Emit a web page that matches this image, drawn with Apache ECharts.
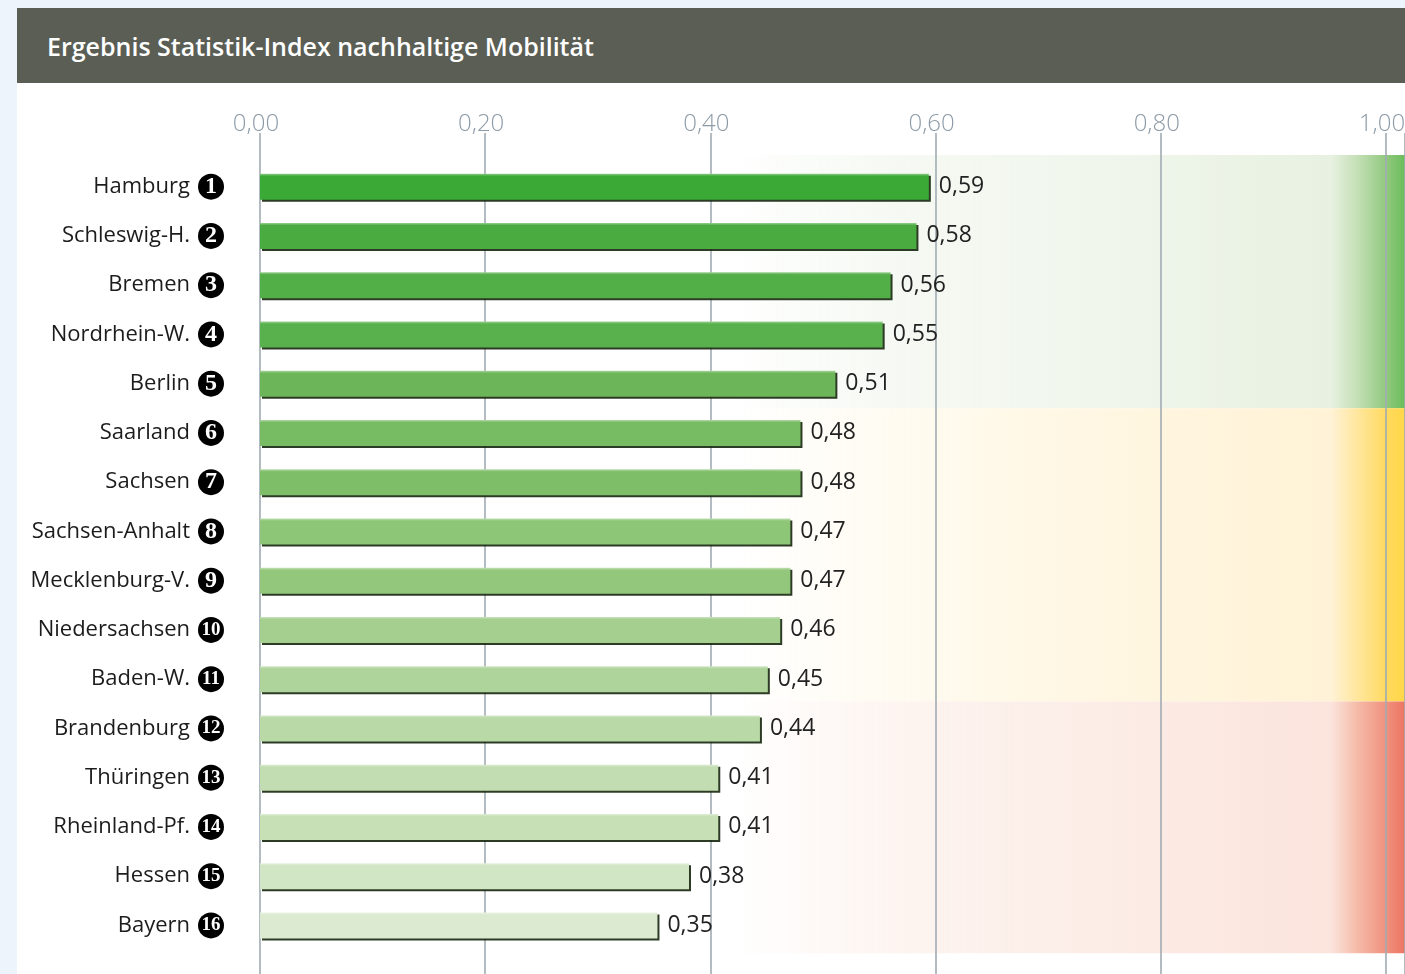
<!DOCTYPE html>
<html>
<head>
<meta charset="utf-8">
<title>Ergebnis Statistik-Index nachhaltige Mobilität</title>
<script src="https://cdn.jsdelivr.net/npm/echarts@6/dist/echarts.min.js"></script>
<style>
  html, body { margin: 0; padding: 0; background: #edf4fc; overflow: hidden; }
  .head {
    position: absolute; left: 17px; top: 8px; width: 1388px; height: 75px;
    background: #5a5e55; color: #fff; box-sizing: border-box; padding-left: 30px;
    font: 600 25px "Open Sans", sans-serif; line-height: 76px;
  }
  #chart { position: absolute; left: 17px; top: 83px; width: 1388px; height: 891px; background: #fff; }
</style>
</head>
<body>
<div class="head">Ergebnis Statistik-Index nachhaltige Mobilität</div>
<div id="chart"></div>
<script>
// Daten
const laender = ["Hamburg", "Schleswig-H.", "Bremen", "Nordrhein-W.", "Berlin", "Saarland", "Sachsen",
  "Sachsen-Anhalt", "Mecklenburg-V.", "Niedersachsen", "Baden-W.", "Brandenburg", "Thüringen",
  "Rheinland-Pf.", "Hessen", "Bayern"];
const raenge = [1, 2, 3, 4, 5, 6, 7, 8, 9, 10, 11, 12, 13, 14, 15, 16];
const indexWerte = [0.594, 0.583, 0.560, 0.553, 0.511, 0.480, 0.480, 0.471, 0.471, 0.462, 0.451, 0.444,
  0.407, 0.407, 0.381, 0.353];
const achsenTicks = [0, 0.2, 0.4, 0.6, 0.8, 1.0];

// Bewertungsbereiche (in Rangplätzen: gut / mittel / schlecht)
const bereichVon = [-0.14, 5, 10.95];
const bereichBis = [5, 10.95, 16.06];

// Farben
const balkenFarben = ["#3aa935", "#4aab40", "#52ae47", "#58b14c", "#6cb659", "#77bb62", "#7fbe69",
  "#8ec677", "#93c87c", "#a4cf8f", "#afd49b", "#b9d9a6", "#c2ddb1", "#c7e0b6", "#d1e6c4", "#dbead0"];
const bereichFarben = [
  ["rgba(233,242,227,0)", "#f2f7ef", "#e8f1e1", "#c3dfb5", "#8dc77b", "#6bbd5b"],
  ["rgba(255,247,228,0)", "#fff8e6", "#fff2d6", "#ffe69c", "#ffd95c", "#ffd748"],
  ["rgba(251,232,224,0)", "#fcefe9", "#fbe4dc", "#f5baa7", "#ef8e7b", "#ed7563"]
];

const xMax = 1.0169;

function fmt(v) {
  return v.toFixed(2).replace(".", ",");
}

function helle(hex, t) {
  const n = parseInt(hex.slice(1), 16);
  const r = n >> 16, g = (n >> 8) & 255, b = n & 255;
  const m = c => Math.round(c + (255 - c) * t);
  return "rgb(" + m(r) + "," + m(g) + "," + m(b) + ")";
}

const chart = echarts.init(document.getElementById("chart"));

const bereiche = bereichVon.map((von, i) => {
  const f = bereichFarben[i];
  return [
    {
      xAxis: 0.42, yAxis: von,
      itemStyle: {
        color: new echarts.graphic.LinearGradient(0, 0, 1, 0, [
          { offset: 0, color: f[0] },
          { offset: 0.45, color: f[1] },
          { offset: 0.89, color: f[2] },
          { offset: 0.93, color: f[3] },
          { offset: 0.975, color: f[4] },
          { offset: 1, color: f[5] }
        ])
      }
    },
    { xAxis: xMax, yAxis: bereichBis[i] }
  ];
});

const badgeBasis = {
  backgroundColor: "#000", borderRadius: 13, width: 26, height: 26, lineHeight: 26,
  align: "center", verticalAlign: "middle", color: "#fff", fontFamily: "Liberation Serif", fontWeight: "bold"
};

const option = {
  animation: false,
  grid: [
    { left: 243, right: 0, top: 50, bottom: 0, outerBoundsMode: "none", containLabel: false },
    { left: 243, right: 0, top: 79, bottom: 24, outerBoundsMode: "none", containLabel: false }
  ],
  xAxis: [
    {
      gridIndex: 0,
      type: "value",
      position: "top",
      min: 0,
      max: xMax,
      interval: 0.2,
      z: 3,
      axisLine: { show: false },
      axisTick: { show: false },
      splitLine: { lineStyle: { color: "#a1abb3", width: 1.6 } },
      axisLabel: {
        margin: -3,
        color: "#8d9ba7",
        fontFamily: "Open Sans",
        fontWeight: 300,
        fontSize: 24,
        padding: [0, 8, 0, 0],
        showMaxLabel: false,
        formatter: v => achsenTicks.some(t => Math.abs(t - v) < 1e-6) ? fmt(v) : ""
      }
    },
    { gridIndex: 1, type: "value", min: 0, max: xMax, show: false }
  ],
  yAxis: [
    { gridIndex: 0, type: "value", min: -0.587, max: 16.48, inverse: true, show: false },
    {
      gridIndex: 1,
      type: "category",
      inverse: true,
      data: laender,
      axisLine: { show: false },
      axisTick: { show: false },
      axisLabel: {
        margin: 36,
        formatter: (name, idx) => {
          const r = raenge[idx];
          return "{name|" + name + "}{" + (r < 10 ? "badge" : "badge2") + "|" + r + "}";
        },
        rich: {
          name: { fontFamily: "Open Sans", fontSize: 22, color: "#1c1c1c", padding: [0, 8, 0, 0] },
          badge: Object.assign({ fontSize: 24 }, badgeBasis),
          badge2: Object.assign({ fontSize: 19 }, badgeBasis)
        }
      }
    }
  ],
  series: [
    {
      type: "line",
      xAxisIndex: 0,
      yAxisIndex: 0,
      data: [],
      silent: true,
      markArea: { silent: true, data: bereiche }
    },
    {
      type: "bar",
      xAxisIndex: 1,
      yAxisIndex: 1,
      z: 10,
      barWidth: 26,
      data: indexWerte.map((v, i) => ({
        value: v,
        itemStyle: {
          color: new echarts.graphic.LinearGradient(0, 0, 0, 1, [
            { offset: 0, color: helle(balkenFarben[i], 0.45) },
            { offset: 0.1, color: balkenFarben[i] },
            { offset: 1, color: balkenFarben[i] }
          ]),
          shadowColor: "rgba(22,38,14,0.9)",
          shadowOffsetX: 2,
          shadowOffsetY: 2,
          shadowBlur: 0
        }
      })),
      label: {
        show: true,
        position: "right",
        distance: 10,
        color: "#222",
        fontFamily: "Open Sans",
        fontSize: 23,
        formatter: p => fmt(p.value)
      }
    }
  ]
};

chart.setOption(option);
</script>
</body>
</html>
